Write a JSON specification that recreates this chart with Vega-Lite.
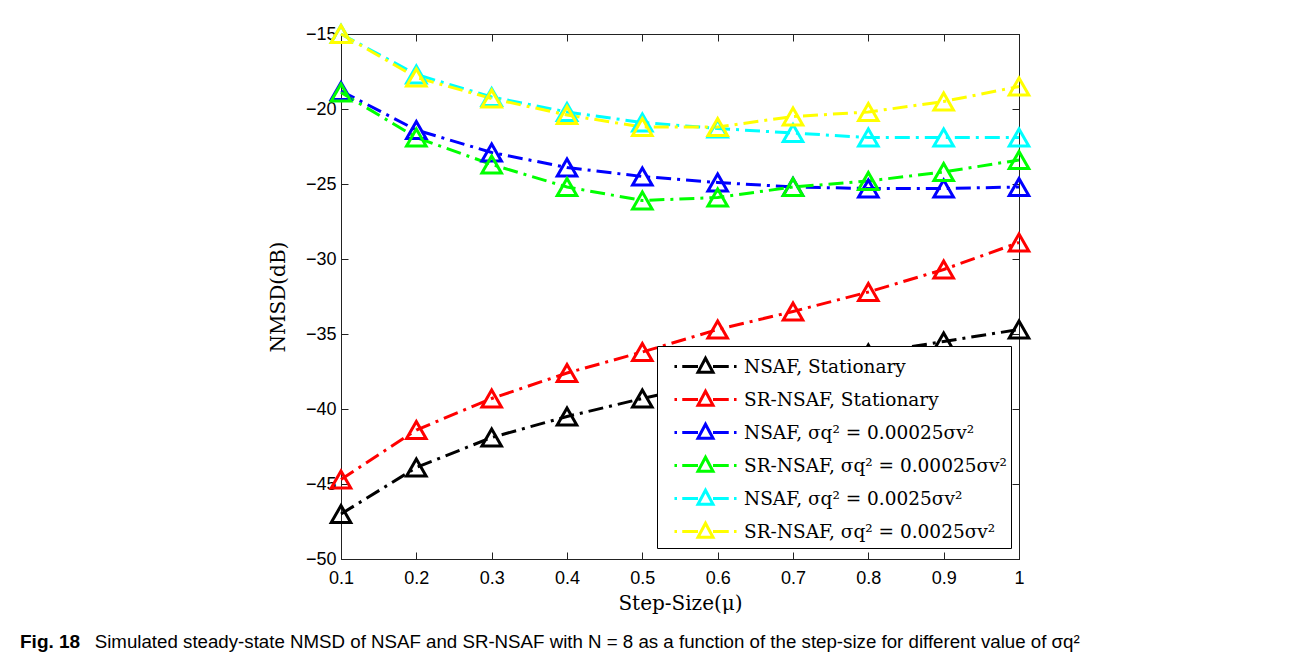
{
  "$schema": "https://vega.github.io/schema/vega-lite/v6.json",
  "autosize": "none",
  "width": 678,
  "height": 525,
  "padding": {"left": 341, "top": 34, "right": 272, "bottom": 105},
  "background": "white",
  "config": {
    "view": {"stroke": "#222222", "strokeWidth": 1},
    "axis": {
      "grid": false,
      "domainColor": "#222222",
      "tickColor": "#222222",
      "labelColor": "black",
      "labelFont": "Liberation Sans",
      "labelFontSize": 18,
      "labelFlush": false,
      "labelOverlap": false,
      "titleFont": "DejaVu Serif",
      "titleFontSize": 20,
      "titleFontWeight": "normal",
      "titleColor": "black",
      "tickSize": -7
    },
    "legend": {
      "orient": "none",
      "legendX": 316,
      "legendY": 312,
      "padding": 4,
      "strokeColor": "black",
      "fillColor": "white",
      "labelFont": "DejaVu Serif",
      "labelFontSize": 18.5,
      "labelColor": "black",
      "labelOffset": 22,
      "labelLimit": 500,
      "symbolOffset": 28,
      "symbolSize": 900,
      "symbolStrokeWidth": 3,
      "rowPadding": 4,
      "symbolFillColor": "transparent"
    }
  },
  "title": {
    "text": "Fig. 18",
    "subtitle": "\u200B\u2003\u2003\u2003\u2003Simulated steady-state NMSD of NSAF and SR-NSAF with N = 8 as a function of the step-size for different value of σq²",
    "orient": "bottom",
    "anchor": "start",
    "frame": "group",
    "dx": -321,
    "offset": 20,
    "font": "Liberation Sans",
    "fontSize": 19,
    "fontWeight": "bold",
    "color": "black",
    "subtitleFont": "Liberation Sans",
    "subtitleFontSize": 18.7,
    "subtitleColor": "black",
    "subtitlePadding": -19
  },
  "data": {
    "values": [
      {"mu": 0.1, "nmsd": -47.0, "s": "NSAF, Stationary"},
      {"mu": 0.2, "nmsd": -43.9, "s": "NSAF, Stationary"},
      {"mu": 0.3, "nmsd": -41.9, "s": "NSAF, Stationary"},
      {"mu": 0.4, "nmsd": -40.5, "s": "NSAF, Stationary"},
      {"mu": 0.5, "nmsd": -39.3, "s": "NSAF, Stationary"},
      {"mu": 0.6, "nmsd": -38.2, "s": "NSAF, Stationary"},
      {"mu": 0.7, "nmsd": -37.2, "s": "NSAF, Stationary"},
      {"mu": 0.8, "nmsd": -36.3, "s": "NSAF, Stationary"},
      {"mu": 0.9, "nmsd": -35.5, "s": "NSAF, Stationary"},
      {"mu": 1.0, "nmsd": -34.7, "s": "NSAF, Stationary"},
      {"mu": 0.1, "nmsd": -44.7, "s": "SR-NSAF, Stationary"},
      {"mu": 0.2, "nmsd": -41.4, "s": "SR-NSAF, Stationary"},
      {"mu": 0.3, "nmsd": -39.3, "s": "SR-NSAF, Stationary"},
      {"mu": 0.4, "nmsd": -37.6, "s": "SR-NSAF, Stationary"},
      {"mu": 0.5, "nmsd": -36.2, "s": "SR-NSAF, Stationary"},
      {"mu": 0.6, "nmsd": -34.7, "s": "SR-NSAF, Stationary"},
      {"mu": 0.7, "nmsd": -33.5, "s": "SR-NSAF, Stationary"},
      {"mu": 0.8, "nmsd": -32.2, "s": "SR-NSAF, Stationary"},
      {"mu": 0.9, "nmsd": -30.7, "s": "SR-NSAF, Stationary"},
      {"mu": 1.0, "nmsd": -28.9, "s": "SR-NSAF, Stationary"},
      {"mu": 0.1, "nmsd": -18.8, "s": "NSAF, σq² = 0.00025σv²"},
      {"mu": 0.2, "nmsd": -21.4, "s": "NSAF, σq² = 0.00025σv²"},
      {"mu": 0.3, "nmsd": -22.9, "s": "NSAF, σq² = 0.00025σv²"},
      {"mu": 0.4, "nmsd": -23.9, "s": "NSAF, σq² = 0.00025σv²"},
      {"mu": 0.5, "nmsd": -24.5, "s": "NSAF, σq² = 0.00025σv²"},
      {"mu": 0.6, "nmsd": -24.9, "s": "NSAF, σq² = 0.00025σv²"},
      {"mu": 0.7, "nmsd": -25.2, "s": "NSAF, σq² = 0.00025σv²"},
      {"mu": 0.8, "nmsd": -25.3, "s": "NSAF, σq² = 0.00025σv²"},
      {"mu": 0.9, "nmsd": -25.3, "s": "NSAF, σq² = 0.00025σv²"},
      {"mu": 1.0, "nmsd": -25.2, "s": "NSAF, σq² = 0.00025σv²"},
      {"mu": 0.1, "nmsd": -18.9, "s": "SR-NSAF, σq² = 0.00025σv²"},
      {"mu": 0.2, "nmsd": -21.9, "s": "SR-NSAF, σq² = 0.00025σv²"},
      {"mu": 0.3, "nmsd": -23.7, "s": "SR-NSAF, σq² = 0.00025σv²"},
      {"mu": 0.4, "nmsd": -25.2, "s": "SR-NSAF, σq² = 0.00025σv²"},
      {"mu": 0.5, "nmsd": -26.1, "s": "SR-NSAF, σq² = 0.00025σv²"},
      {"mu": 0.6, "nmsd": -25.9, "s": "SR-NSAF, σq² = 0.00025σv²"},
      {"mu": 0.7, "nmsd": -25.2, "s": "SR-NSAF, σq² = 0.00025σv²"},
      {"mu": 0.8, "nmsd": -24.8, "s": "SR-NSAF, σq² = 0.00025σv²"},
      {"mu": 0.9, "nmsd": -24.2, "s": "SR-NSAF, σq² = 0.00025σv²"},
      {"mu": 1.0, "nmsd": -23.4, "s": "SR-NSAF, σq² = 0.00025σv²"},
      {"mu": 0.1, "nmsd": -15.0, "s": "NSAF, σq² = 0.0025σv²"},
      {"mu": 0.2, "nmsd": -17.7, "s": "NSAF, σq² = 0.0025σv²"},
      {"mu": 0.3, "nmsd": -19.2, "s": "NSAF, σq² = 0.0025σv²"},
      {"mu": 0.4, "nmsd": -20.2, "s": "NSAF, σq² = 0.0025σv²"},
      {"mu": 0.5, "nmsd": -20.9, "s": "NSAF, σq² = 0.0025σv²"},
      {"mu": 0.6, "nmsd": -21.3, "s": "NSAF, σq² = 0.0025σv²"},
      {"mu": 0.7, "nmsd": -21.6, "s": "NSAF, σq² = 0.0025σv²"},
      {"mu": 0.8, "nmsd": -21.9, "s": "NSAF, σq² = 0.0025σv²"},
      {"mu": 0.9, "nmsd": -21.9, "s": "NSAF, σq² = 0.0025σv²"},
      {"mu": 1.0, "nmsd": -21.9, "s": "NSAF, σq² = 0.0025σv²"},
      {"mu": 0.1, "nmsd": -15.0, "s": "SR-NSAF, σq² = 0.0025σv²"},
      {"mu": 0.2, "nmsd": -17.9, "s": "SR-NSAF, σq² = 0.0025σv²"},
      {"mu": 0.3, "nmsd": -19.3, "s": "SR-NSAF, σq² = 0.0025σv²"},
      {"mu": 0.4, "nmsd": -20.4, "s": "SR-NSAF, σq² = 0.0025σv²"},
      {"mu": 0.5, "nmsd": -21.2, "s": "SR-NSAF, σq² = 0.0025σv²"},
      {"mu": 0.6, "nmsd": -21.2, "s": "SR-NSAF, σq² = 0.0025σv²"},
      {"mu": 0.7, "nmsd": -20.5, "s": "SR-NSAF, σq² = 0.0025σv²"},
      {"mu": 0.8, "nmsd": -20.2, "s": "SR-NSAF, σq² = 0.0025σv²"},
      {"mu": 0.9, "nmsd": -19.5, "s": "SR-NSAF, σq² = 0.0025σv²"},
      {"mu": 1.0, "nmsd": -18.5, "s": "SR-NSAF, σq² = 0.0025σv²"}
    ]
  },
  "layer": [
    {
      "mark": {"type": "line", "strokeWidth": 3, "strokeDash": [15, 6, 3, 6]},
      "encoding": {
        "x": {
          "field": "mu", "type": "quantitative",
          "scale": {"domain": [0.1, 1], "nice": false, "zero": false},
          "axis": {
            "orient": "bottom",
            "values": [0.1, 0.2, 0.3, 0.4, 0.5, 0.6, 0.7, 0.8, 0.9, 1],
            "format": "~g",
            "labelPadding": 17,
            "title": "Step-Size(μ)",
            "titlePadding": 6
          }
        },
        "y": {
          "field": "nmsd", "type": "quantitative",
          "scale": {"domain": [-50, -15], "nice": false, "zero": false},
          "axis": {
            "orient": "left",
            "values": [-50, -45, -40, -35, -30, -25, -20, -15],
            "labelPadding": 12,
            "title": "NMSD(dB)",
            "titlePadding": 17
          }
        },
        "color": {
          "field": "s", "type": "nominal",
          "scale": {
            "domain": ["NSAF, Stationary", "SR-NSAF, Stationary", "NSAF, σq² = 0.00025σv²", "SR-NSAF, σq² = 0.00025σv²", "NSAF, σq² = 0.0025σv²", "SR-NSAF, σq² = 0.0025σv²"],
            "range": ["#000000", "#ff0000", "#0000ff", "#00ff00", "#00ffff", "#ffff00"]
          },
          "legend": {
            "title": null,
            "encode": {
              "symbols": {
                "update": {
                  "shape": {"value": "M-2.07,0H-1.9M-1.55,0H-0.5M0.5,0H1.55M1.9,0H2.07M0,-0.55L0.5,0.38L-0.5,0.38Z"},
                  "strokeWidth": {"value": 3},
                  "fill": {"value": "transparent"}
                }
              }
            }
          }
        }
      }
    },
    {
      "mark": {"type": "point", "shape": "triangle-up", "filled": false, "size": 380, "strokeWidth": 3, "opacity": 1},
      "encoding": {
        "x": {
          "field": "mu", "type": "quantitative",
          "scale": {"domain": [0.1, 1], "nice": false, "zero": false},
          "axis": {
            "orient": "top",
            "values": [0.1, 0.2, 0.3, 0.4, 0.5, 0.6, 0.7, 0.8, 0.9, 1],
            "labels": false,
            "title": null
          }
        },
        "y": {
          "field": "nmsd", "type": "quantitative",
          "scale": {"domain": [-50, -15], "nice": false, "zero": false},
          "axis": {
            "orient": "right",
            "values": [-50, -45, -40, -35, -30, -25, -20, -15],
            "labels": false,
            "title": null
          }
        },
        "color": {
          "field": "s", "type": "nominal",
          "scale": {
            "domain": ["NSAF, Stationary", "SR-NSAF, Stationary", "NSAF, σq² = 0.00025σv²", "SR-NSAF, σq² = 0.00025σv²", "NSAF, σq² = 0.0025σv²", "SR-NSAF, σq² = 0.0025σv²"],
            "range": ["#000000", "#ff0000", "#0000ff", "#00ff00", "#00ffff", "#ffff00"]
          },
          "legend": {
            "title": null,
            "encode": {
              "symbols": {
                "update": {
                  "shape": {"value": "M-2.07,0H-1.9M-1.55,0H-0.5M0.5,0H1.55M1.9,0H2.07M0,-0.55L0.5,0.38L-0.5,0.38Z"},
                  "strokeWidth": {"value": 3},
                  "fill": {"value": "transparent"}
                }
              }
            }
          }
        }
      }
    }
  ],
  "resolve": {"axis": {"x": "independent", "y": "independent"}}
}
